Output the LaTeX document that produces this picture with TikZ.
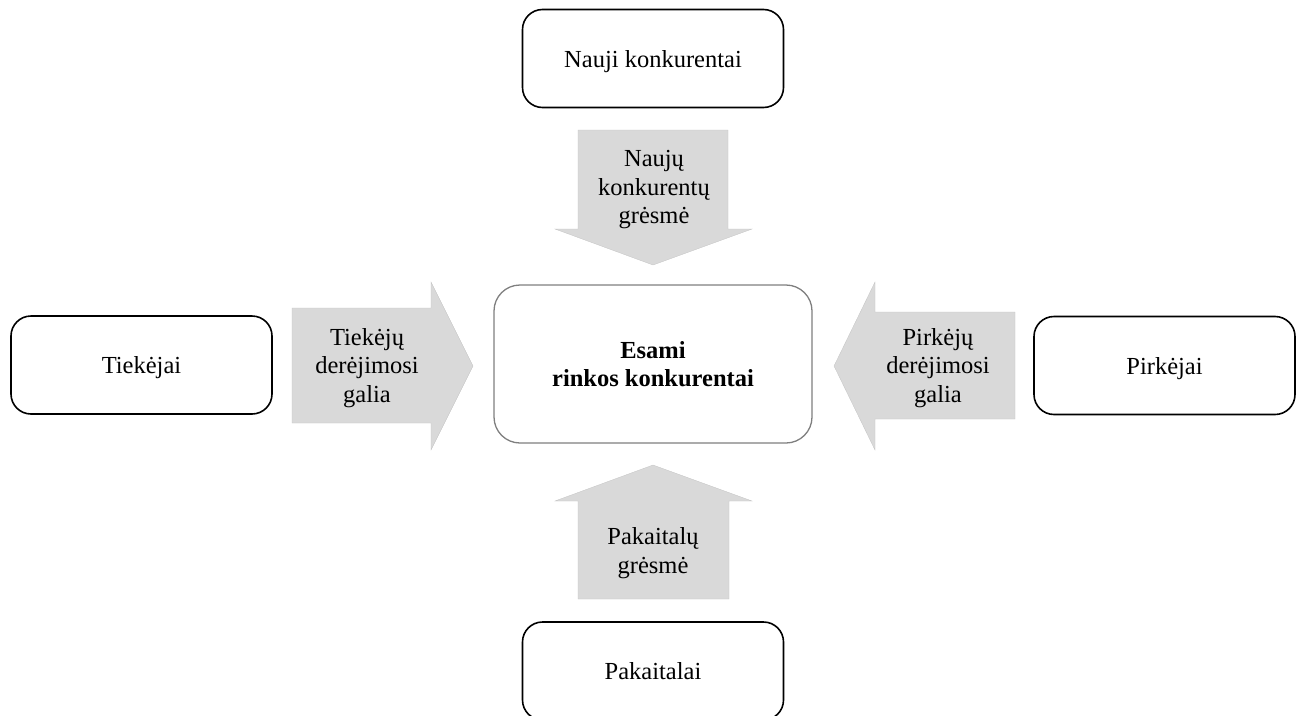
\documentclass[tikz,border=0pt]{standalone}
\usepackage{fontspec}
\setmainfont{Liberation Serif}
\definecolor{forcegray}{HTML}{D9D9D9}
\definecolor{coreline}{HTML}{7F7F7F}
\begin{document}
\begin{tikzpicture}[x=1pt,y=-1pt,
  txt/.style={font=\fontsize{24.5}{28.5}\selectfont},
  box/.style={txt, draw=black, line width=1.6pt, rounded corners=20pt,
    fill=white, minimum width=261pt, minimum height=98pt, inner sep=0pt,
    text height=17pt, text depth=0pt},
  corebox/.style={txt, draw=coreline, line width=1.3pt, rounded corners=26pt,
    fill=white, minimum width=318pt, minimum height=158pt, inner sep=0pt,
    align=center},
  force/.style={fill=forcegray, draw=forcegray!90!black, line width=0.3pt},
  forcetext/.style={txt, align=center, inner sep=0pt}]
\useasboundingbox (0,0) rectangle (1301,715);
\clip (0,0) rectangle (1301,715);

% five forces: boxes
\node[box] (entrants) at (653,58.5) {Nauji konkurentai};
\node[box] (suppliers) at (141.5,365) {Tiekėjai};
\node[box] (buyers) at (1164.5,365.5) {Pirkėjai};
\node[box] (substitutes) at (653,671) {Pakaitalai};
\node[corebox] (rivalry) at (653,364) {\textbf{Esami}\\\textbf{rinkos konkurentai}};

% block arrows pointing at the centre
\fill[force] (578,130) -- (728,130) -- (728,229) -- (752,229) -- (653,265)
  -- (555,229) -- (578,229) -- cycle;
\fill[force] (578,599) -- (729,599) -- (729,501) -- (752,501) -- (653,465)
  -- (555,501) -- (578,501) -- cycle;
\fill[force] (292,308) -- (431,308) -- (431,282) -- (473,366) -- (431,450)
  -- (431,423) -- (292,423) -- cycle;
\fill[force] (1015,312) -- (875,312) -- (875,282) -- (834,366) -- (875,450)
  -- (875,419) -- (1015,419) -- cycle;

% arrow labels
\node[forcetext] (threatnew) at (654,190) {Naujų\\konkurentų\\grėsmė};
\node[forcetext] (supplierpower) at (367,368) {Tiekėjų\\derėjimosi\\galia};
\node[forcetext] (buyerpower) at (938,368) {Pirkėjų\\derėjimosi\\galia};
\node[forcetext] (threatsub) at (653,553) {Pakaitalų\\grėsmė};
\end{tikzpicture}
\end{document}
